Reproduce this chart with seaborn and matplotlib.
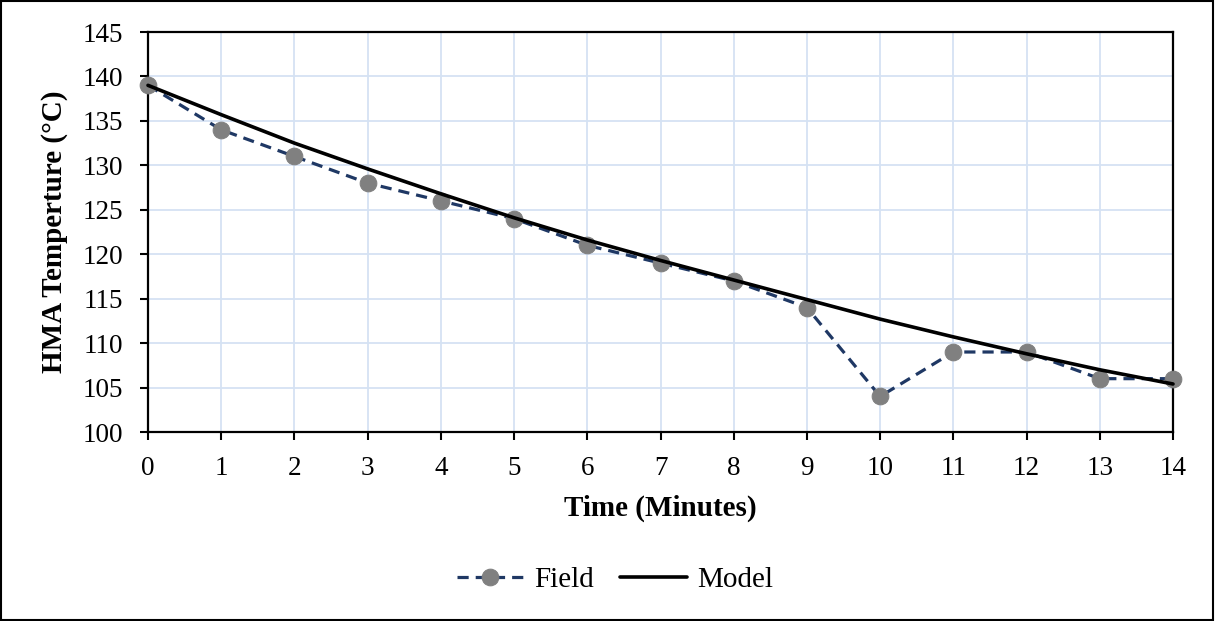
import matplotlib
matplotlib.use("Agg")
import matplotlib.pyplot as plt
import seaborn as sns
import pandas as pd
from matplotlib.patches import Rectangle

time_min = list(range(15))
field_temp = [139, 134, 131, 128, 126, 124, 121, 119, 117, 114, 104, 109, 109, 106, 106]
model_temp = [139, 135.7, 132.5, 129.6, 126.8, 124.1, 121.6, 119.3, 117.1, 114.9, 112.7, 110.7, 108.8, 107.0, 105.4]
x_ticks = list(range(15))
y_ticks = list(range(100, 146, 5))

sns.set_theme(style="white")
plt.rcParams['font.family'] = ['Liberation Serif', 'DejaVu Serif']
plt.rcParams['text.color'] = 'black'
plt.rcParams['axes.labelcolor'] = 'black'
plt.rcParams['xtick.color'] = 'black'
plt.rcParams['ytick.color'] = 'black'

df_field = pd.DataFrame({"Time": time_min, "Temp": field_temp})
df_model = pd.DataFrame({"Time": time_min, "Temp": model_temp})

fig = plt.figure(figsize=(12.15, 6.21), dpi=100)
ax = fig.add_axes([148/1215, 1-432/621, (1173-148)/1215, 400/621])

sns.lineplot(data=df_field, x="Time", y="Temp", ax=ax, color="#1F3864", linewidth=2.3,
             linestyle=(0, (3.5, 2.2)), marker="o", markersize=12,
             markerfacecolor="#808080", markeredgecolor="#808080", label="Field",
             clip_on=False, zorder=3)
sns.lineplot(data=df_model, x="Time", y="Temp", ax=ax, color="black", linewidth=2.6,
             label="Model", clip_on=False, zorder=4)

ax.set_xlim(0, 14)
ax.set_ylim(100, 145)
ax.set_xticks(x_ticks)
ax.set_yticks(y_ticks)
ax.grid(True, color="#D5E2F3", linewidth=1.3)
ax.set_axisbelow(True)
for s in ax.spines.values():
    s.set_color("black")
    s.set_linewidth(1.6)
ax.tick_params(axis="both", which="major", labelsize=19.5, labelcolor="black", colors="black",
               length=6, width=1.5, direction="out", bottom=True, left=True)
ax.tick_params(axis="x", pad=11)
ax.tick_params(axis="y", pad=12)
ax.set_xlabel("Time (Minutes)", fontsize=21, fontweight="bold", color="black", labelpad=10)
ax.set_ylabel("HMA Temperture (\u00b0C)", fontsize=21, fontweight="bold", color="black", labelpad=10)

leg = ax.legend(loc="center", bbox_to_anchor=(615/1215, 1-580/621), bbox_transform=fig.transFigure,
                ncol=2, frameon=False, fontsize=21, handlelength=2.3, columnspacing=0.9,
                handletextpad=0.35, labelcolor="black")

fig.patches.append(Rectangle((0.001, 0.002), 0.997, 0.996, transform=fig.transFigure,
                             fill=False, edgecolor="black", linewidth=1.5))

fig.savefig("out.png", dpi=100)
